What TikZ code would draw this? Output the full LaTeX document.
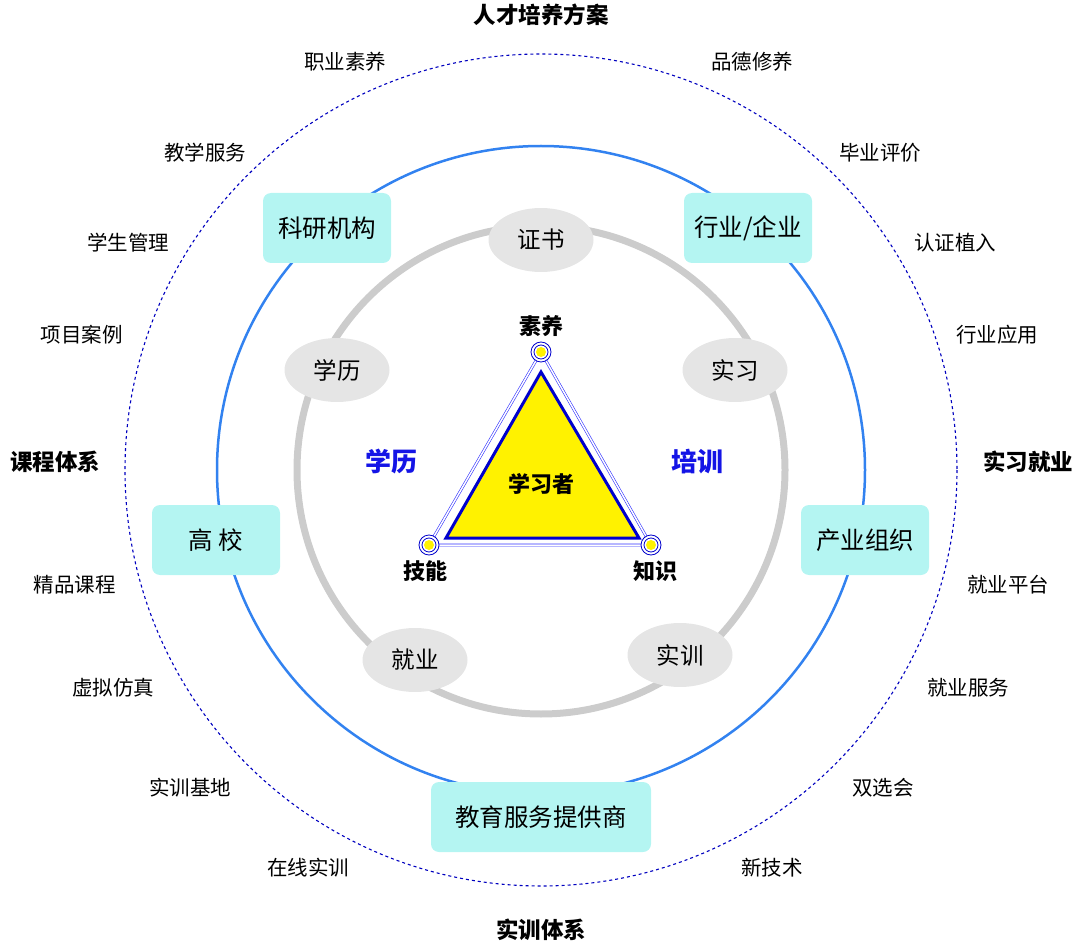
\documentclass[tikz,border=0pt]{standalone}
\usepackage{fontspec}
\usetikzlibrary{shapes.geometric}
\setmainfont{Noto Sans CJK SC}
\begin{document}
\begin{tikzpicture}[x=1pt,y=-1pt,
  lab/.style={font=\fontsize{20.5}{22}\selectfont},
  big/.style={font=\fontsize{22.5}{24}\selectfont\bfseries},
  box/.style={draw=none,fill={rgb,255:red,180;green,245;blue,242},rounded corners=8pt,minimum width=128pt,minimum height=70pt,font=\fontsize{24.5}{26}\selectfont},
  ell/.style={ellipse,fill=black!10,minimum width=105pt,minimum height=64pt,inner sep=0pt,font=\fontsize{23.5}{25}\selectfont},
  vtx/.style={font=\fontsize{22}{24}\selectfont\bfseries},
  ring/.style={draw=blue!80!black,line width=0.8pt}]
\useasboundingbox (0,0) rectangle (1080,944);
\coordinate (c) at (541,470);
\draw[blue!75!black,dashed,line width=1.1pt] (c) circle (416);
\draw[color={rgb,255:red,50;green,130;blue,240},line width=2.5pt] (c) circle (324);
\draw[black!20,line width=7pt] (c) circle (244);
% triangle
\coordinate (t) at (541,352); \coordinate (l) at (429,545); \coordinate (r) at (651,545);
\draw[blue!80!white,line width=0.6pt,double=white,double distance=1.5pt] (t)--(l)--(r)--cycle;
\draw[blue!80!black,line width=3pt,fill=yellow] (541,372)--(446,538)--(639,538)--cycle;
\foreach \p in {t,l,r}{
  \draw[ring,fill=white] (\p) circle (10);
  \draw[ring] (\p) circle (7);
  \fill[yellow] (\p) circle (5);}
\node[vtx] (vt) at (541,326) {素养};
\node[vtx] (vl) at (425,571) {技能};
\node[vtx] (vr) at (655,571) {知识};
\node[vtx] (le) at (541,484) {学习者};
\node[font=\fontsize{26}{28}\selectfont\bfseries,text={rgb,255:red,20;green,20;blue,230}] (xl) at (391,462) {学历};
\node[font=\fontsize{26}{28}\selectfont\bfseries,text={rgb,255:red,20;green,20;blue,230}] (px) at (697,462) {培训};
% ellipses
\node[ell] (e1) at (541,240) {证书};
\node[ell] (e2) at (337,370) {学历};
\node[ell] (e3) at (735,370) {实习};
\node[ell] (e4) at (415,660) {就业};
\node[ell] (e5) at (680,655) {实训};
% boxes
\node[box] (b1) at (327,228) {科研机构};
\node[box] (b2) at (748,228) {行业/企业};
\node[box] (b3) at (216,540) {高\ 校};
\node[box] (b4) at (865,540) {产业组织};
\node[box,minimum width=220pt] (b5) at (541,817) {教育服务提供商};
% outer labels
\node[big] (h1) at (541,15) {人才培养方案};
\node[big] (h2) at (541,930) {实训体系};
\node[big] (h3) at (55,462) {课程体系};
\node[big] (h4) at (1028,462) {实习就业};
\node[lab] at (345,62) {职业素养};
\node[lab] at (752,62) {品德修养};
\node[lab] at (205,153) {教学服务};
\node[lab] at (880,153) {毕业评价};
\node[lab] at (128,243) {学生管理};
\node[lab] at (955,243) {认证植入};
\node[lab] at (82,335) {项目案例};
\node[lab] at (997,335) {行业应用};
\node[lab] at (75,585) {精品课程};
\node[lab] at (1008,585) {就业平台};
\node[lab] at (113,688) {虚拟仿真};
\node[lab] at (968,688) {就业服务};
\node[lab] at (190,788) {实训基地};
\node[lab] at (883,788) {双选会};
\node[lab] at (308,868) {在线实训};
\node[lab] at (772,868) {新技术};
\end{tikzpicture}
\end{document}
